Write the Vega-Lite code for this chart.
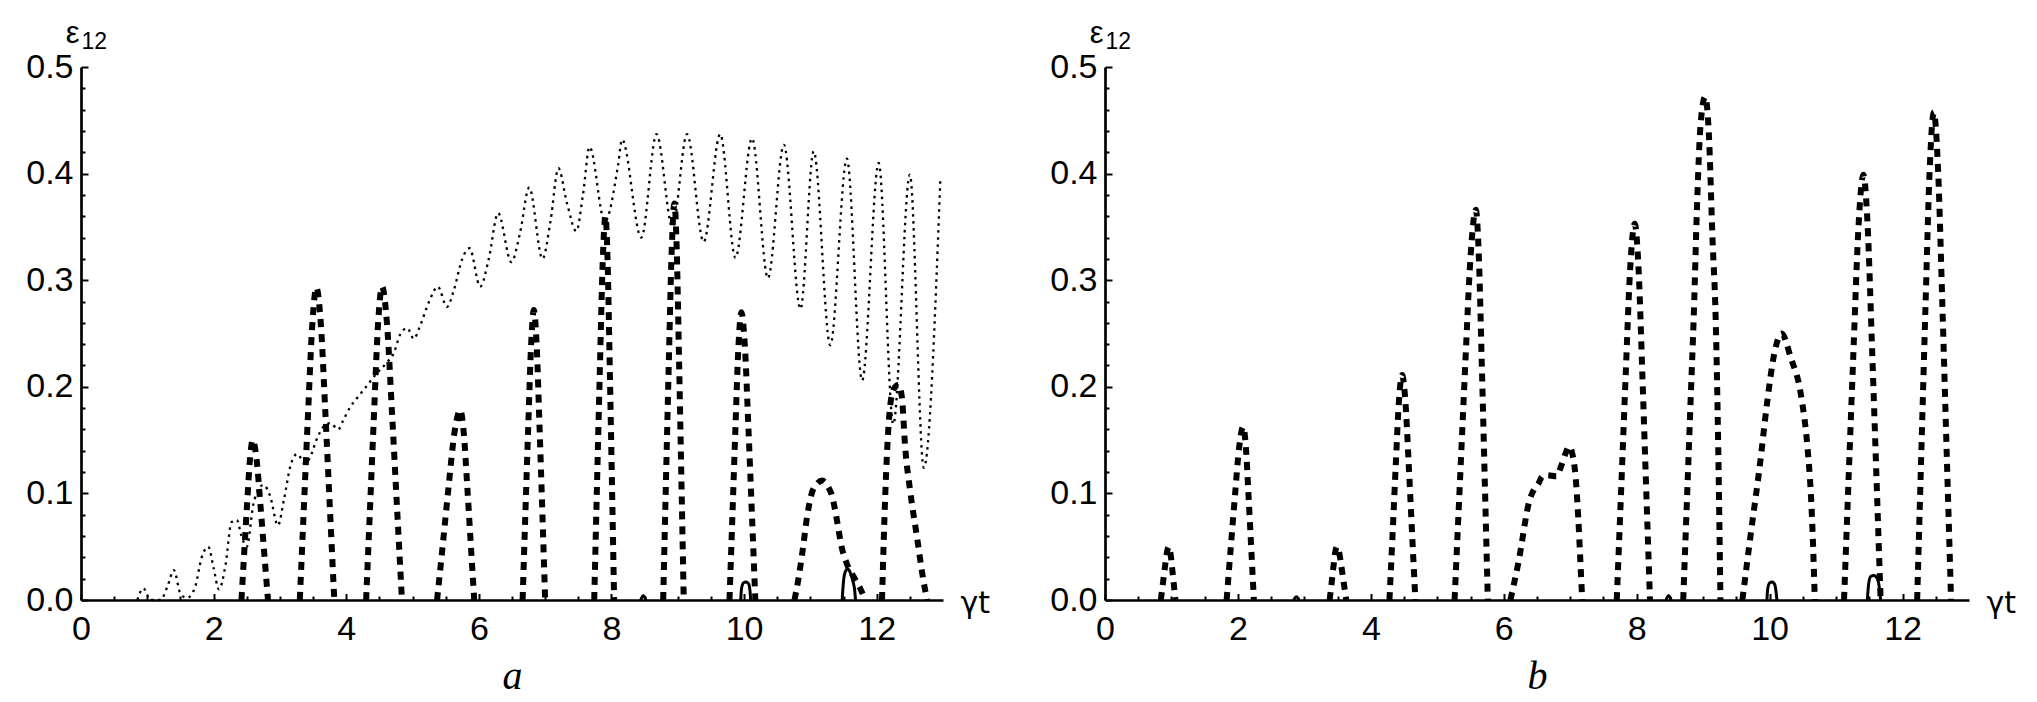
{
"$schema": "https://vega.github.io/schema/vega-lite/v6.json",
"background": "white",
"padding": {"left": 5, "top": 17, "right": 5, "bottom": 5},
"bounds": "flush",
"spacing": 162,
"config": {"view": {"stroke": null}},
"datasets": {
"aDot": [
{"x":0.85,"y":0},{"x":0.94,"y":0.011},{"x":1.05,"y":0.0},{"x":1.2,"y":0.0},{"x":1.3,"y":0.012},{"x":1.4,"y":0.028},{"x":1.5,"y":0.006},{"x":1.6,"y":0.002},{"x":1.72,"y":0.012},{"x":1.82,"y":0.04},{"x":1.92,"y":0.05},{"x":2.0,"y":0.03},{"x":2.08,"y":0.01},{"x":2.18,"y":0.033},{"x":2.27,"y":0.073},{"x":2.35,"y":0.075},{"x":2.42,"y":0.06},{"x":2.5,"y":0.05},{"x":2.6,"y":0.09},{"x":2.68,"y":0.104},{"x":2.75,"y":0.108},{"x":2.85,"y":0.098},{"x":2.97,"y":0.07},{"x":3.06,"y":0.094},{"x":3.16,"y":0.126},{"x":3.26,"y":0.137},{"x":3.38,"y":0.128},{"x":3.45,"y":0.133},{"x":3.55,"y":0.15},{"x":3.65,"y":0.162},{"x":3.76,"y":0.166},{"x":3.88,"y":0.16},{"x":3.95,"y":0.168},{"x":4.05,"y":0.18},{"x":4.17,"y":0.19},{"x":4.3,"y":0.2},{"x":4.45,"y":0.212},{"x":4.6,"y":0.222},{"x":4.72,"y":0.232},{"x":4.82,"y":0.25},{"x":4.92,"y":0.255},{"x":5.02,"y":0.245},{"x":5.1,"y":0.255},{"x":5.25,"y":0.28},{"x":5.38,"y":0.294},{"x":5.52,"y":0.275},{"x":5.62,"y":0.29},{"x":5.75,"y":0.32},{"x":5.86,"y":0.33},{"x":6.02,"y":0.294},{"x":6.15,"y":0.32},{"x":6.29,"y":0.363},{"x":6.49,"y":0.317},{"x":6.62,"y":0.344},{"x":6.76,"y":0.387},{"x":6.96,"y":0.32},{"x":7.08,"y":0.355},{"x":7.2,"y":0.405},{"x":7.33,"y":0.372},{"x":7.47,"y":0.346},{"x":7.57,"y":0.38},{"x":7.67,"y":0.425},{"x":7.9,"y":0.355},{"x":8.1,"y":0.408},{"x":8.16,"y":0.432},{"x":8.45,"y":0.34},{"x":8.68,"y":0.437},{"x":8.92,"y":0.35},{"x":9.14,"y":0.437},{"x":9.39,"y":0.336},{"x":9.64,"y":0.437},{"x":9.87,"y":0.321},{"x":10.12,"y":0.433},{"x":10.36,"y":0.302},{"x":10.6,"y":0.427},{"x":10.85,"y":0.273},{"x":11.05,"y":0.421},{"x":11.3,"y":0.239},{"x":11.55,"y":0.414},{"x":11.78,"y":0.206},{"x":12.03,"y":0.41},{"x":12.25,"y":0.165},{"x":12.5,"y":0.399},{"x":12.71,"y":0.124},{"x":12.96,"y":0.395}
],
"aDash": [
{"g":1,"x":2.42,"y":0},{"g":1,"x":2.462,"y":0.045},{"g":1,"x":2.505,"y":0.09},{"g":1,"x":2.548,"y":0.132},{"g":1,"x":2.59,"y":0.15},{"g":1,"x":2.648,"y":0.132},{"g":1,"x":2.705,"y":0.09},{"g":1,"x":2.762,"y":0.045},{"g":1,"x":2.82,"y":0},
{"g":2,"x":3.3,"y":0},{"g":2,"x":3.362,"y":0.088},{"g":2,"x":3.425,"y":0.176},{"g":2,"x":3.488,"y":0.258},{"g":2,"x":3.55,"y":0.293},{"g":2,"x":3.618,"y":0.258},{"g":2,"x":3.685,"y":0.176},{"g":2,"x":3.752,"y":0.088},{"g":2,"x":3.82,"y":0},
{"g":3,"x":4.3,"y":0},{"g":3,"x":4.36,"y":0.088},{"g":3,"x":4.42,"y":0.176},{"g":3,"x":4.48,"y":0.259},{"g":3,"x":4.54,"y":0.294},{"g":3,"x":4.615,"y":0.259},{"g":3,"x":4.69,"y":0.176},{"g":3,"x":4.765,"y":0.088},{"g":3,"x":4.84,"y":0},
{"g":4,"x":5.37,"y":0},{"g":4,"x":5.458,"y":0.053},{"g":4,"x":5.545,"y":0.107},{"g":4,"x":5.632,"y":0.157},{"g":4,"x":5.72,"y":0.178},{"g":4,"x":5.772,"y":0.157},{"g":4,"x":5.825,"y":0.107},{"g":4,"x":5.878,"y":0.053},{"g":4,"x":5.93,"y":0},
{"g":5,"x":6.66,"y":0},{"g":5,"x":6.702,"y":0.082},{"g":5,"x":6.745,"y":0.163},{"g":5,"x":6.788,"y":0.239},{"g":5,"x":6.83,"y":0.272},{"g":5,"x":6.872,"y":0.239},{"g":5,"x":6.915,"y":0.163},{"g":5,"x":6.958,"y":0.082},{"g":5,"x":7.0,"y":0},
{"g":6,"x":7.74,"y":0},{"g":6,"x":7.782,"y":0.108},{"g":6,"x":7.825,"y":0.216},{"g":6,"x":7.868,"y":0.317},{"g":6,"x":7.91,"y":0.36},{"g":6,"x":7.942,"y":0.317},{"g":6,"x":7.975,"y":0.216},{"g":6,"x":8.008,"y":0.108},{"g":6,"x":8.04,"y":0},
{"g":7,"x":8.78,"y":0},{"g":7,"x":8.822,"y":0.112},{"g":7,"x":8.865,"y":0.223},{"g":7,"x":8.908,"y":0.327},{"g":7,"x":8.95,"y":0.372},{"g":7,"x":8.985,"y":0.327},{"g":7,"x":9.02,"y":0.223},{"g":7,"x":9.055,"y":0.112},{"g":7,"x":9.09,"y":0},
{"g":8,"x":9.78,"y":0},{"g":8,"x":9.825,"y":0.081},{"g":8,"x":9.87,"y":0.162},{"g":8,"x":9.915,"y":0.238},{"g":8,"x":9.96,"y":0.27},{"g":8,"x":10.012,"y":0.238},{"g":8,"x":10.065,"y":0.162},{"g":8,"x":10.118,"y":0.081},{"g":8,"x":10.17,"y":0},
{"g":9,"x":10.76,"y":0},{"g":9,"x":10.82,"y":0.02},{"g":9,"x":10.88,"y":0.045},{"g":9,"x":10.95,"y":0.078},{"g":9,"x":11.02,"y":0.1},{"g":9,"x":11.1,"y":0.109},{"g":9,"x":11.18,"y":0.112},{"g":9,"x":11.26,"y":0.107},{"g":9,"x":11.33,"y":0.097},{"g":9,"x":11.4,"y":0.075},{"g":9,"x":11.47,"y":0.05},{"g":9,"x":11.55,"y":0.034},{"g":9,"x":11.65,"y":0.022},{"g":9,"x":11.75,"y":0.011},{"g":9,"x":11.83,"y":0},
{"g":10,"x":12.08,"y":0},{"g":10,"x":12.13,"y":0.1},{"g":10,"x":12.18,"y":0.165},{"g":10,"x":12.23,"y":0.193},{"g":10,"x":12.28,"y":0.2},{"g":10,"x":12.33,"y":0.202},{"g":10,"x":12.38,"y":0.19},{"g":10,"x":12.43,"y":0.143},{"g":10,"x":12.51,"y":0.1},{"g":10,"x":12.61,"y":0.058},{"g":10,"x":12.7,"y":0.02},{"g":10,"x":12.76,"y":0}
],
"aSolid": [
{"g":1,"x":8.44,"y":0},{"g":1,"x":8.48,"y":0.004},{"g":1,"x":8.52,"y":0},
{"g":2,"x":9.95,"y":0},{"g":2,"x":9.96,"y":0.01},{"g":2,"x":9.99,"y":0.016},{"g":2,"x":10.03,"y":0.017},{"g":2,"x":10.07,"y":0.015},{"g":2,"x":10.09,"y":0.008},{"g":2,"x":10.1,"y":0},
{"g":3,"x":11.48,"y":0},{"g":3,"x":11.5,"y":0.018},{"g":3,"x":11.53,"y":0.027},{"g":3,"x":11.56,"y":0.029},{"g":3,"x":11.6,"y":0.026},{"g":3,"x":11.64,"y":0.018},{"g":3,"x":11.67,"y":0.008},{"g":3,"x":11.68,"y":0}
],
"bDash": [
{"g":1,"x":0.84,"y":0},{"g":1,"x":0.87,"y":0.015},{"g":1,"x":0.9,"y":0.03},{"g":1,"x":0.93,"y":0.044},{"g":1,"x":0.96,"y":0.05},{"g":1,"x":0.985,"y":0.044},{"g":1,"x":1.01,"y":0.03},{"g":1,"x":1.035,"y":0.015},{"g":1,"x":1.06,"y":0},
{"g":2,"x":1.83,"y":0},{"g":2,"x":1.892,"y":0.049},{"g":2,"x":1.955,"y":0.0975},{"g":2,"x":2.018,"y":0.143},{"g":2,"x":2.08,"y":0.1625},{"g":2,"x":2.12,"y":0.143},{"g":2,"x":2.16,"y":0.0975},{"g":2,"x":2.2,"y":0.049},{"g":2,"x":2.24,"y":0},
{"g":3,"x":3.38,"y":0},{"g":3,"x":3.408,"y":0.015},{"g":3,"x":3.435,"y":0.03},{"g":3,"x":3.462,"y":0.044},{"g":3,"x":3.49,"y":0.05},{"g":3,"x":3.525,"y":0.044},{"g":3,"x":3.56,"y":0.03},{"g":3,"x":3.595,"y":0.015},{"g":3,"x":3.63,"y":0},
{"g":4,"x":4.28,"y":0},{"g":4,"x":4.328,"y":0.063},{"g":4,"x":4.375,"y":0.127},{"g":4,"x":4.422,"y":0.186},{"g":4,"x":4.47,"y":0.211},{"g":4,"x":4.52,"y":0.186},{"g":4,"x":4.57,"y":0.127},{"g":4,"x":4.62,"y":0.063},{"g":4,"x":4.67,"y":0},
{"g":5,"x":5.26,"y":0},{"g":5,"x":5.34,"y":0.11},{"g":5,"x":5.42,"y":0.22},{"g":5,"x":5.5,"y":0.322},{"g":5,"x":5.58,"y":0.366},{"g":5,"x":5.625,"y":0.322},{"g":5,"x":5.67,"y":0.22},{"g":5,"x":5.715,"y":0.11},{"g":5,"x":5.76,"y":0},
{"g":6,"x":6.1,"y":0},{"g":6,"x":6.22,"y":0.035},{"g":6,"x":6.39,"y":0.094},{"g":6,"x":6.45,"y":0.103},{"g":6,"x":6.52,"y":0.109},{"g":6,"x":6.58,"y":0.116},{"g":6,"x":6.65,"y":0.117},{"g":6,"x":6.79,"y":0.116},{"g":6,"x":6.86,"y":0.125},{"g":6,"x":6.93,"y":0.1375},{"g":6,"x":6.98,"y":0.144},{"g":6,"x":7.03,"y":0.1375},{"g":6,"x":7.08,"y":0.116},{"g":6,"x":7.12,"y":0.078},{"g":6,"x":7.15,"y":0.04},{"g":6,"x":7.18,"y":0},
{"g":7,"x":7.7,"y":0},{"g":7,"x":7.768,"y":0.106},{"g":7,"x":7.835,"y":0.212},{"g":7,"x":7.902,"y":0.311},{"g":7,"x":7.97,"y":0.353},{"g":7,"x":8.028,"y":0.311},{"g":7,"x":8.085,"y":0.212},{"g":7,"x":8.142,"y":0.106},{"g":7,"x":8.2,"y":0},
{"g":8,"x":8.7,"y":0},{"g":8,"x":8.76,"y":0.1},{"g":8,"x":8.81,"y":0.185},{"g":8,"x":8.86,"y":0.269},{"g":8,"x":8.91,"y":0.374},{"g":8,"x":8.96,"y":0.445},{"g":8,"x":9.03,"y":0.472},{"g":8,"x":9.086,"y":0.437},{"g":8,"x":9.14,"y":0.34},{"g":8,"x":9.19,"y":0.26},{"g":8,"x":9.227,"y":0.143},{"g":8,"x":9.26,"y":0},
{"g":9,"x":9.59,"y":0},{"g":9,"x":9.71,"y":0.059},{"g":9,"x":9.86,"y":0.13},{"g":9,"x":9.96,"y":0.184},{"g":9,"x":10.07,"y":0.231},{"g":9,"x":10.18,"y":0.25},{"g":9,"x":10.32,"y":0.227},{"g":9,"x":10.47,"y":0.193},{"g":9,"x":10.57,"y":0.143},{"g":9,"x":10.62,"y":0.1},{"g":9,"x":10.65,"y":0.058},{"g":9,"x":10.68,"y":0},
{"g":10,"x":11.12,"y":0},{"g":10,"x":11.192,"y":0.12},{"g":10,"x":11.265,"y":0.239},{"g":10,"x":11.338,"y":0.351},{"g":10,"x":11.41,"y":0.399},{"g":10,"x":11.475,"y":0.351},{"g":10,"x":11.54,"y":0.239},{"g":10,"x":11.605,"y":0.12},{"g":10,"x":11.67,"y":0},
{"g":11,"x":12.22,"y":0},{"g":11,"x":12.282,"y":0.137},{"g":11,"x":12.345,"y":0.275},{"g":11,"x":12.408,"y":0.403},{"g":11,"x":12.47,"y":0.4575},{"g":11,"x":12.535,"y":0.403},{"g":11,"x":12.6,"y":0.275},{"g":11,"x":12.665,"y":0.137},{"g":11,"x":12.73,"y":0}
],
"bSolid": [
{"g":1,"x":2.84,"y":0},{"g":1,"x":2.88,"y":0.003},{"g":1,"x":2.92,"y":0},
{"g":2,"x":8.44,"y":0},{"g":2,"x":8.48,"y":0.004},{"g":2,"x":8.52,"y":0},
{"g":3,"x":9.96,"y":0},{"g":3,"x":9.97,"y":0.01},{"g":3,"x":10.0,"y":0.016},{"g":3,"x":10.04,"y":0.017},{"g":3,"x":10.08,"y":0.014},{"g":3,"x":10.1,"y":0.006},{"g":3,"x":10.11,"y":0},
{"g":4,"x":11.47,"y":0},{"g":4,"x":11.49,"y":0.015},{"g":4,"x":11.52,"y":0.022},{"g":4,"x":11.57,"y":0.023},{"g":4,"x":11.62,"y":0.02},{"g":4,"x":11.65,"y":0.012},{"g":4,"x":11.67,"y":0}
]
},
"hconcat": [
{
"width": 862, "height": 533,
"layer": [
{"data": {"name": "aDot"},
 "mark": {"type": "line", "interpolate": "monotone", "color": "black", "strokeWidth": 2.3, "strokeDash": [2.5, 4.5]},
 "encoding": {
  "x": {"field": "x", "type": "quantitative", "scale": {"domain": [0, 13], "nice": false, "zero": false}, "axis": null},
  "y": {"field": "y", "type": "quantitative", "scale": {"domain": [0, 0.5], "nice": false}, "axis": null}}},
{"data": {"name": "aDash"},
 "mark": {"type": "line", "interpolate": "monotone", "color": "black", "strokeWidth": 6, "strokeDash": [8, 7]},
 "encoding": {
  "x": {"field": "x", "type": "quantitative", "scale": {"domain": [0, 13], "nice": false, "zero": false},
   "axis": {"orient": "bottom", "values": [0, 2, 4, 6, 8, 10, 12], "format": "d", "grid": false, "tickSize": -6.5, "tickWidth": 2, "tickColor": "black", "domainColor": "black", "domainWidth": 2.7, "labelFont": "Liberation Sans", "labelFontSize": 34, "labelColor": "black", "labelPadding": 19, "labelFlush": false, "labelOverlap": false,
    "title": "γt", "titleX": 879, "titleY": 3, "titleAlign": "left", "titleBaseline": "middle", "titleAngle": 0, "titleFont": "DejaVu Sans", "titleFontSize": 30, "titleFontWeight": "normal", "titleColor": "black"}},
  "y": {"field": "y", "type": "quantitative", "scale": {"domain": [0, 0.5], "nice": false},
   "axis": {"orient": "left", "values": [0, 0.1, 0.2, 0.3, 0.4, 0.5], "format": ".1f", "grid": false, "tickSize": -7, "tickWidth": 2, "tickColor": "black", "domainColor": "black", "domainWidth": 2.7, "labelFont": "Liberation Sans", "labelFontSize": 34, "labelColor": "black", "labelPadding": 15, "labelFlush": false, "labelOverlap": false, "minExtent": 76,
    "title": "ε", "titleX": -2, "titleY": -25, "titleAlign": "right", "titleBaseline": "alphabetic", "titleAngle": 0, "titleFont": "Liberation Sans", "titleFontSize": 31, "titleFontWeight": "normal", "titleColor": "black"}},
  "detail": {"field": "g", "type": "nominal"}}},
{"data": {"name": "aSolid"},
 "mark": {"type": "line", "interpolate": "monotone", "color": "black", "strokeWidth": 3},
 "encoding": {
  "x": {"field": "x", "type": "quantitative", "scale": {"domain": [0, 13], "nice": false, "zero": false},
   "axis": {"orient": "bottom", "values": [0.5, 1, 1.5, 2.5, 3, 3.5, 4.5, 5, 5.5, 6.5, 7, 7.5, 8.5, 9, 9.5, 10.5, 11, 11.5, 12.5], "labels": false, "domain": false, "grid": false, "tickSize": -4, "tickWidth": 2, "tickColor": "black",
    "title": "a", "titleX": 431, "titleY": 88, "titleAlign": "center", "titleBaseline": "alphabetic", "titleAngle": 0, "titleFont": "Liberation Serif", "titleFontStyle": "italic", "titleFontSize": 40, "titleFontWeight": "normal", "titleColor": "black"}},
  "y": {"field": "y", "type": "quantitative", "scale": {"domain": [0, 0.5], "nice": false},
   "axis": {"orient": "left", "values": [0.02, 0.04, 0.06, 0.08, 0.12, 0.14, 0.16, 0.18, 0.22, 0.24, 0.26, 0.28, 0.32, 0.34, 0.36, 0.38, 0.42, 0.44, 0.46, 0.48], "labels": false, "domain": false, "grid": false, "tickSize": -4, "tickWidth": 2, "tickColor": "black",
    "title": "12", "titleX": 0, "titleY": -19, "titleAlign": "left", "titleBaseline": "alphabetic", "titleAngle": 0, "titleFont": "Liberation Sans", "titleFontSize": 23, "titleFontWeight": "normal", "titleColor": "black"}},
  "detail": {"field": "g", "type": "nominal"}}}
],
"resolve": {"axis": {"x": "independent", "y": "independent"}}
},
{
"width": 864, "height": 533,
"layer": [
{"data": {"name": "bDash"},
 "mark": {"type": "line", "interpolate": "monotone", "color": "black", "strokeWidth": 6, "strokeDash": [8, 7]},
 "encoding": {
  "x": {"field": "x", "type": "quantitative", "scale": {"domain": [0, 13], "nice": false, "zero": false},
   "axis": {"orient": "bottom", "values": [0, 2, 4, 6, 8, 10, 12], "format": "d", "grid": false, "tickSize": -6.5, "tickWidth": 2, "tickColor": "black", "domainColor": "black", "domainWidth": 2.7, "labelFont": "Liberation Sans", "labelFontSize": 34, "labelColor": "black", "labelPadding": 19, "labelFlush": false, "labelOverlap": false,
    "title": "γt", "titleX": 881, "titleY": 3, "titleAlign": "left", "titleBaseline": "middle", "titleAngle": 0, "titleFont": "DejaVu Sans", "titleFontSize": 30, "titleFontWeight": "normal", "titleColor": "black"}},
  "y": {"field": "y", "type": "quantitative", "scale": {"domain": [0, 0.5], "nice": false},
   "axis": {"orient": "left", "values": [0, 0.1, 0.2, 0.3, 0.4, 0.5], "format": ".1f", "grid": false, "tickSize": -7, "tickWidth": 2, "tickColor": "black", "domainColor": "black", "domainWidth": 2.7, "labelFont": "Liberation Sans", "labelFontSize": 34, "labelColor": "black", "labelPadding": 15, "labelFlush": false, "labelOverlap": false,
    "title": "ε", "titleX": -2, "titleY": -25, "titleAlign": "right", "titleBaseline": "alphabetic", "titleAngle": 0, "titleFont": "Liberation Sans", "titleFontSize": 31, "titleFontWeight": "normal", "titleColor": "black"}},
  "detail": {"field": "g", "type": "nominal"}}},
{"data": {"name": "bSolid"},
 "mark": {"type": "line", "interpolate": "monotone", "color": "black", "strokeWidth": 3},
 "encoding": {
  "x": {"field": "x", "type": "quantitative", "scale": {"domain": [0, 13], "nice": false, "zero": false},
   "axis": {"orient": "bottom", "values": [0.5, 1, 1.5, 2.5, 3, 3.5, 4.5, 5, 5.5, 6.5, 7, 7.5, 8.5, 9, 9.5, 10.5, 11, 11.5, 12.5], "labels": false, "domain": false, "grid": false, "tickSize": -4, "tickWidth": 2, "tickColor": "black",
    "title": "b", "titleX": 432, "titleY": 88, "titleAlign": "center", "titleBaseline": "alphabetic", "titleAngle": 0, "titleFont": "Liberation Serif", "titleFontStyle": "italic", "titleFontSize": 40, "titleFontWeight": "normal", "titleColor": "black"}},
  "y": {"field": "y", "type": "quantitative", "scale": {"domain": [0, 0.5], "nice": false},
   "axis": {"orient": "left", "values": [0.02, 0.04, 0.06, 0.08, 0.12, 0.14, 0.16, 0.18, 0.22, 0.24, 0.26, 0.28, 0.32, 0.34, 0.36, 0.38, 0.42, 0.44, 0.46, 0.48], "labels": false, "domain": false, "grid": false, "tickSize": -4, "tickWidth": 2, "tickColor": "black",
    "title": "12", "titleX": 0, "titleY": -19, "titleAlign": "left", "titleBaseline": "alphabetic", "titleAngle": 0, "titleFont": "Liberation Sans", "titleFontSize": 23, "titleFontWeight": "normal", "titleColor": "black"}},
  "detail": {"field": "g", "type": "nominal"}}}
],
"resolve": {"axis": {"x": "independent", "y": "independent"}}
}
]
}
